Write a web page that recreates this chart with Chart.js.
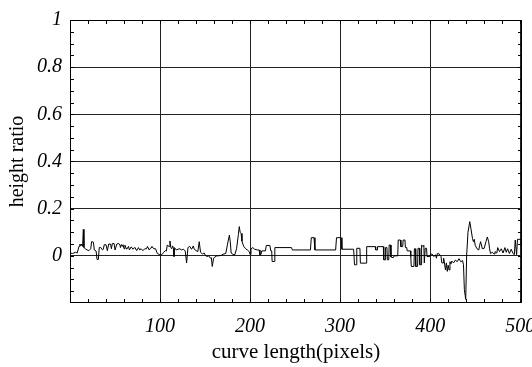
<!DOCTYPE html>
<html>
<head>
<meta charset="utf-8">
<script src="https://cdn.jsdelivr.net/npm/chart.js@4"></script>
<style>
  body { margin: 0; background: #fff; }
</style>
</head>
<body>
<canvas id="chart" width="532" height="367"></canvas>
<script>
  // curve length (x) and height ratio (y)
  const curveLength = [
    0, 3, 6, 8, 10, 11, 12, 13, 14, 14.8, 15.5, 17, 19, 21, 23, 24, 26, 27, 29, 30,
    31.5, 32.5, 34, 36, 37, 38, 40, 41.5, 43, 45, 46, 47, 49, 50, 52, 54, 55.5, 56, 57, 58,
    59, 60, 61, 62, 63, 65, 66, 68, 70, 72, 74, 76, 77.5, 79, 81, 83, 85, 86, 88, 90,
    91, 93, 95, 97, 99, 100, 102, 104, 106, 107, 108, 110, 111, 112, 113, 114, 115, 115.5, 116, 118,
    120, 122, 124, 126, 128, 129.5, 131, 133, 135, 137, 138, 140, 142, 143.5, 145, 147, 149, 150, 152, 154,
    156, 157, 158, 159.5, 161, 163, 165, 168, 170, 173, 175, 177, 178, 179, 181, 183, 185, 187, 188, 189,
    190, 191, 192, 193, 195, 197, 199, 200, 201, 203, 205, 208, 210, 211, 212, 213, 217, 218, 222, 223,
    224, 224.5, 227, 227.5, 246, 247, 258, 267, 268, 271, 272, 295, 296, 301, 302, 315, 316, 318, 318.5, 322,
    322.5, 329, 329.5, 339, 339.5, 341, 341.5, 348, 348.5, 350, 350.5, 352, 352.5, 354, 354.5, 356, 356.5, 359, 360, 364,
    364.5, 367, 367.5, 369.5, 370, 372, 372.5, 374, 374.5, 378, 378.5, 379, 382, 382.5, 383.5, 384, 386, 386.5, 388, 388.5,
    390, 390.5, 392, 393, 393.5, 394, 394.5, 396, 396.5, 399.5, 400, 402, 404, 406, 407, 408, 410, 412, 413, 414.5,
    415, 416, 417, 418, 419, 420, 421, 422, 423, 424, 426, 428, 430, 432, 434, 436, 437, 438, 439.5, 440.5,
    442, 444, 445.5, 447, 448, 449, 450, 452, 454, 455, 456, 458, 460, 462, 463.5, 465, 466, 467, 469, 471,
    472, 474, 475, 477, 479, 481, 483, 484.5, 486, 488, 490, 492, 493.5, 494.5, 496, 497, 501, 502
  ];
  const heightRatio = [
    0.012, 0.01, 0.015, 0.012, 0.04, 0.05, 0.042, 0.05, 0.04, 0.112, 0.035, 0.03, 0.025, 0.022, 0.03, 0.06, 0.058, 0.025, 0.02, -0.015,
    -0.015, 0.035, 0.036, 0.025, 0.028, 0.047, 0.047, 0.022, 0.05, 0.05, 0.03, 0.052, 0.052, 0.025, 0.05, 0.053, 0.045, 0.035, 0.048, 0.04,
    0.047, 0.03, 0.045, 0.035, 0.028, 0.04, 0.025, 0.038, 0.028, 0.036, 0.022, 0.035, 0.025, 0.03, 0.022, 0.03, 0.03, 0.04, 0.025, 0.035,
    0.04, 0.03, 0.03, 0.01, 0.006, 0.004, 0.005, 0.015, 0.022, 0.02, 0.045, 0.04, 0.063, 0.035, 0.03, 0.042, 0.03, -0.003, 0.035, 0.025,
    0.028, 0.03, 0.025, 0.028, 0.02, -0.03, 0.035, 0.04, 0.028, 0.042, 0.028, 0.022, 0.018, 0.06, 0.015, 0.008, 0.012, 0.004, -0.003, 0,
    -0.01, -0.008, -0.045, -0.01, -0.005, 0, 0, 0.002, 0.007, 0.01, 0.05, 0.088, 0.06, 0.012, 0.006, 0.004, 0.03, 0.09, 0.124, 0.1,
    0.095, 0.062, 0.05, 0.04, 0.03, 0.025, 0.018, 0.006, 0.03, 0.035, 0.028, 0.025, 0.025, 0.004, 0.005, 0.021, 0.021, 0.044, 0.044, 0.021,
    0.021, -0.024, -0.024, 0.035, 0.035, 0.025, 0.025, 0.025, 0.077, 0.077, 0.025, 0.025, 0.077, 0.077, 0.028, 0.028, -0.038, -0.038, 0.032, 0.032,
    -0.031, -0.031, 0.039, 0.039, 0.025, 0.025, 0.039, 0.039, -0.017, -0.017, 0.035, 0.035, -0.017, -0.017, 0.046, 0.046, -0.005, -0.008, 0, 0,
    0.067, 0.067, 0.039, 0.039, 0.067, 0.067, 0.035, 0.035, 0.021, 0.021, -0.003, -0.045, -0.045, 0.03, 0.03, -0.045, -0.045, 0.032, 0.032, -0.038,
    -0.038, 0.045, 0.04, 0.045, -0.03, -0.03, 0.032, 0.032, -0.003, -0.003, 0.004, 0.008, -0.003, 0.004, -0.01, 0.01, 0.008, -0.002, -0.03, -0.03,
    -0.01, -0.035, -0.06, -0.03, -0.066, -0.04, -0.06, -0.025, -0.035, -0.022, -0.03, -0.018, -0.025, -0.012, -0.025, -0.02, -0.038, -0.143, -0.185, 0,
    0.1, 0.145, 0.11, 0.074, 0.06, 0.07, 0.045, 0.03, 0.025, 0.045, 0.06, 0.03, 0.032, 0.06, 0.08, 0.06, 0.03, 0.01, 0.015, 0.008,
    0.018, 0.012, 0.035, 0.018, 0.03, 0.012, 0.035, 0.015, 0.03, 0.01, 0.028, 0.01, 0.005, 0.067, 0.005, 0.07, 0.07, 0.005
  ];
  const xTicks = [100, 200, 300, 400, 500];
  const yTicks = [0, 0.2, 0.4, 0.6, 0.8, 1];
  const xMin = 0, xMax = 502, yMin = -0.2, yMax = 1;

  const serif = "'Liberation Serif', 'DejaVu Serif', serif";

  // small inward ticks on all four sides + frame
  const minorTicks = {
    id: "minorTicks",
    afterDraw(chart) {
      const { ctx, chartArea: a, scales: { x, y } } = chart;
      ctx.save();
      ctx.strokeStyle = "#000";
      ctx.lineWidth = 1;
      ctx.beginPath();
      for (let v = 20; v < xMax; v += 20) {
        const px = Math.round(x.getPixelForValue(v)) + 0.5;
        ctx.moveTo(px, a.bottom); ctx.lineTo(px, a.bottom - 4);
        ctx.moveTo(px, a.top); ctx.lineTo(px, a.top + 4);
      }
      for (let i = 1; i < 24; i++) {
        const py = Math.round(y.getPixelForValue(yMin + i * 0.05)) + 0.5;
        ctx.moveTo(a.left, py); ctx.lineTo(a.left + 4, py);
        ctx.moveTo(a.right, py); ctx.lineTo(a.right - 4, py);
      }
      ctx.stroke();
      ctx.strokeRect(Math.round(a.left) + 0.5, Math.round(a.top) + 0.5,
        Math.round(a.width) - 1, Math.round(a.height) - 1);
      ctx.restore();
    }
  };

  new Chart(document.getElementById("chart"), {
    type: "line",
    data: {
      datasets: [{
        data: curveLength.map((v, i) => ({ x: v, y: heightRatio[i] })),
        borderColor: "#000",
        borderWidth: 1,
        pointRadius: 0,
        tension: 0,
        fill: false,
      }],
    },
    options: {
      responsive: false,
      animation: false,
      devicePixelRatio: 1,
      layout: { padding: { left: 0, right: 10, top: 17, bottom: 0 } },
      plugins: { legend: { display: false }, tooltip: { enabled: false } },
      scales: {
        x: {
          type: "linear",
          min: xMin,
          max: xMax,
          border: { display: false },
          afterBuildTicks: (s) => { s.ticks = xTicks.map((v) => ({ value: v })); },
          grid: { drawTicks: false, color: "#222" },
          ticks: {
            autoSkip: false,
            maxRotation: 0,
            padding: 12,
            color: "#000",
            font: { family: serif, size: 20, style: "italic" },
            callback: (v) => String(v),
          },
          title: {
            display: true,
            text: "curve length(pixels)",
            color: "#000",
            font: { family: serif, size: 21 },
            padding: { top: 0, bottom: 2 },
          },
          afterFit: (s) => { s.height = 64; s.paddingLeft = 0; s.paddingRight = 0; },
        },
        y: {
          min: yMin,
          max: yMax,
          border: { display: false },
          afterBuildTicks: (s) => { s.ticks = yTicks.map((v) => ({ value: v })); },
          grid: { drawTicks: false, color: "#222" },
          ticks: {
            padding: 8,
            color: "#000",
            font: { family: serif, size: 20, style: "italic" },
            callback: (v) => String(Math.round(v * 10) / 10),
          },
          title: {
            display: true,
            text: "height ratio",
            color: "#000",
            font: { family: serif, size: 20 },
            padding: { top: 6, bottom: 0 },
          },
          afterFit: (s) => { s.width = 70; },
        },
      },
    },
    plugins: [minorTicks],
  });
</script>
</body>
</html>
